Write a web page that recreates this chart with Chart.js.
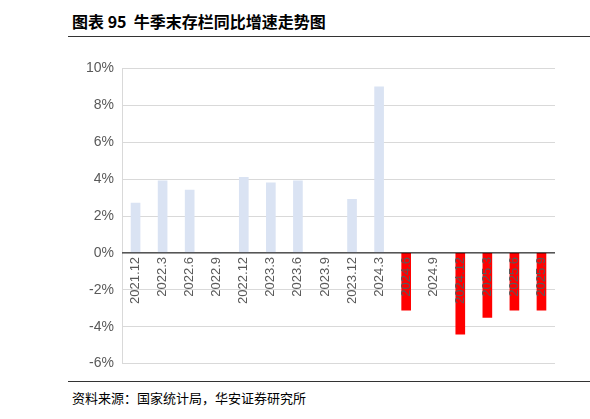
<!DOCTYPE html>
<html><head><meta charset="utf-8">
<script src="https://cdn.jsdelivr.net/npm/chart.js@4"></script>
<style>
body{margin:0;width:590px;height:419px;background:#fff;font-family:"Noto Sans CJK SC",sans-serif;position:relative;overflow:hidden}
#title{position:absolute;left:72px;top:9px;font-size:16px;font-weight:bold;color:#000}
#line1{position:absolute;left:68px;top:36px;width:522px;border-top:1.5px solid #333}
#line2{position:absolute;left:68px;top:381px;width:522px;border-top:1px solid #333}
#src{position:absolute;left:72px;top:388px;font-size:13px;color:#000}
#wrap{position:absolute;left:78px;top:52px;width:492px;height:328px}
</style></head><body>
<div id="title">图表 95&nbsp; 牛季末存栏同比增速走势图</div>
<div id="line1"></div>
<div id="wrap"><canvas id="c"></canvas></div>
<div id="line2"></div>
<div id="src">资料来源：国家统计局，华安证券研究所</div>
<script>
let categories = ["2021.12","2022.3","2022.6","2022.9","2022.12","2023.3","2023.6","2023.9","2023.12","2024.3","2024.6","2024.9","2024.12","2025.3","2025.6","2025.9"];
let values = [2.7,3.9,3.4,0,4.1,3.8,3.9,0,2.9,9.0,-3.1,0,-4.4,-3.5,-3.1,-3.1];
let yTicks = [10,8,6,4,2,0,-2,-4,-6];

let colors = values.map(function(v){ return v < 0 ? "#ff0000" : "#dae3f3"; });

let labelPlugin = {
    id: "labels",
    afterDatasetsDraw: function(chart){
        let ctx = chart.ctx;
        let x = chart.scales.x, y = chart.scales.y;
        let y0 = y.getPixelForValue(0);
        ctx.save();
        ctx.font = "13px 'Liberation Sans', Arial";
        ctx.fillStyle = "#595959";
        ctx.textAlign = "right";
        ctx.textBaseline = "middle";
        categories.forEach(function(c, i){
            ctx.save();
            ctx.translate(x.getPixelForValue(i), y0 + 4);
            ctx.rotate(-Math.PI/2);
            ctx.fillText(c, 0, 0);
            ctx.restore();
        });
        ctx.strokeStyle = "#000";
        ctx.lineWidth = 1;
        ctx.beginPath();
        ctx.moveTo(chart.chartArea.left, y0);
        ctx.lineTo(chart.chartArea.right, y0);
        ctx.stroke();
        ctx.restore();
    }
};

new Chart(document.getElementById("c"), {
    type: "bar",
    data: {labels: categories, datasets: [{data: values, backgroundColor: colors, barThickness: 9}]},
    options: {
        responsive: true, maintainAspectRatio: false, animation: false,
        layout: {padding: {right: 15}},
        plugins: {legend: {display: false}, tooltip: {enabled: false}},
        scales: {
            x: {display: true, grid: {display: false}, ticks: {display: false}, border: {display: false}},
            y: {min: -6, max: 10, afterBuildTicks: function(s){ s.ticks = yTicks.map(function(v){ return {value: v}; }); },
                ticks: {color: "#595959", font: {size: 14, family: "'Liberation Sans', Arial"}, padding: 8, callback: function(v){ return v + "%"; }},
                grid: {color: "#d9d9d9", drawTicks: false}, border: {display: true, color: "#d9d9d9"}}
        }
    },
    plugins: [labelPlugin]
});
</script>
</body></html>
